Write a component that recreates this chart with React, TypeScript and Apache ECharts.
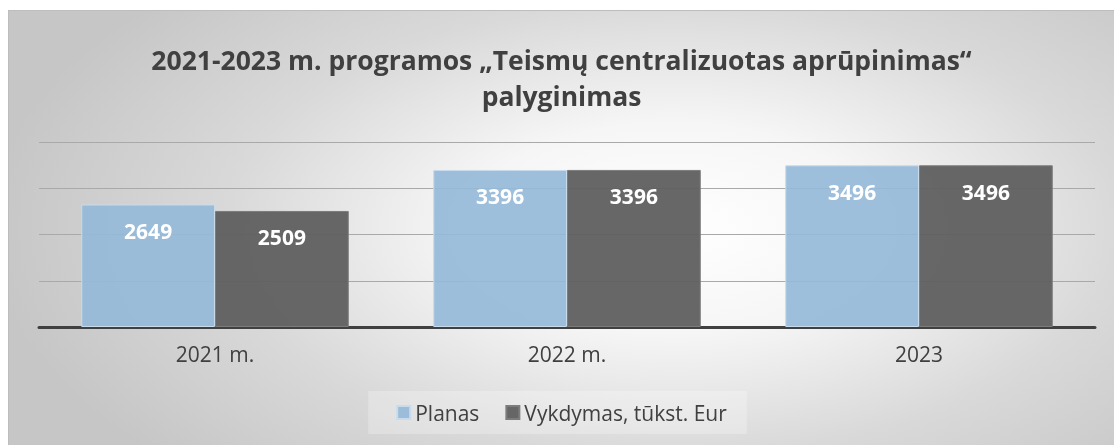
import React, { useEffect, useRef } from "react";
import * as echarts from "echarts";

const categories = ["2021 m.", "2022 m.", "2023"];
const planas = [2649, 3396, 3496];
const vykdymas = [2509, 3396, 3496];
const seriesNames = ["Planas", "Vykdymas, tūkst. Eur"];
const titleText = "2021-2023 m. programos „Teismų centralizuotas aprūpinimas“\npalyginimas";

export default function App() {
  const ref = useRef<HTMLDivElement>(null);
  useEffect(() => {
    if (!ref.current) return;
    const chart = echarts.init(ref.current, null, { renderer: "svg" });
    const font = "'Open Sans', 'Noto Sans', sans-serif";
    chart.setOption({
      animation: false,
      backgroundColor: "transparent",
      textStyle: { fontFamily: font },
      title: {
        text: titleText,
        left: "center",
        top: 26,
        textStyle: {
          fontFamily: font,
          fontSize: 26.5,
          fontWeight: "bold",
          color: "#404040",
          lineHeight: 36,
        },
      },
      legend: {
        data: seriesNames,
        icon: "rect",
        bottom: 11,
        left: "center",
        itemWidth: 13,
        itemHeight: 13,
        itemGap: 26,
        padding: [11, 20, 11, 28],
        backgroundColor: "rgba(255,255,255,0.25)",
        textStyle: { fontFamily: font, fontSize: 21, color: "#404040" },
      },
      grid: { left: 30, right: 19, top: 131, bottom: 118, containLabel: false },
      xAxis: {
        type: "category",
        data: categories,
        axisLine: { lineStyle: { color: "#404040", width: 3 } },
        axisTick: { show: false },
        axisLabel: { fontFamily: font, fontSize: 21, color: "#404040", margin: 16 },
      },
      yAxis: {
        type: "value",
        min: 0,
        max: 4000,
        interval: 1000,
        axisLabel: { show: false },
        axisLine: { show: false },
        axisTick: { show: false },
        splitLine: { lineStyle: { color: "#a9a9a9", width: 1 } },
      },
      series: [
        {
          name: seriesNames[0],
          type: "bar",
          data: planas,
          barGap: "0%",
          barCategoryGap: "24%",
          itemStyle: { color: "rgba(150,186,216,0.92)", borderColor: "#c8dbec", borderWidth: 1 },
          label: {
            show: true,
            position: "insideTop",
            distance: 16,
            color: "#ffffff",
            fontFamily: font,
            fontWeight: "bold",
            fontSize: 21,
          },
        },
        {
          name: seriesNames[1],
          type: "bar",
          data: vykdymas,
          itemStyle: { color: "rgba(95,95,95,0.95)", borderColor: "#7c7c7c", borderWidth: 1 },
          label: {
            show: true,
            position: "insideTop",
            distance: 16,
            color: "#ffffff",
            fontFamily: font,
            fontWeight: "bold",
            fontSize: 21,
          },
        },
      ],
    });
    return () => chart.dispose();
  }, []);
  return (
    <div
      ref={ref}
      style={{
        position: "fixed",
        left: 8,
        top: 10,
        width: 1106,
        height: 435,
        boxSizing: "border-box",
        borderLeft: "1px solid #bdbdbd",
        borderTop: "1px solid #bdbdbd",
        background:
          "radial-gradient(ellipse 62% 80% at 60% 50%, #ffffff 0%, #f6f6f6 30%, #d9d9d9 65%, #c6c6c6 100%)",
      }}
    />
  );
}
